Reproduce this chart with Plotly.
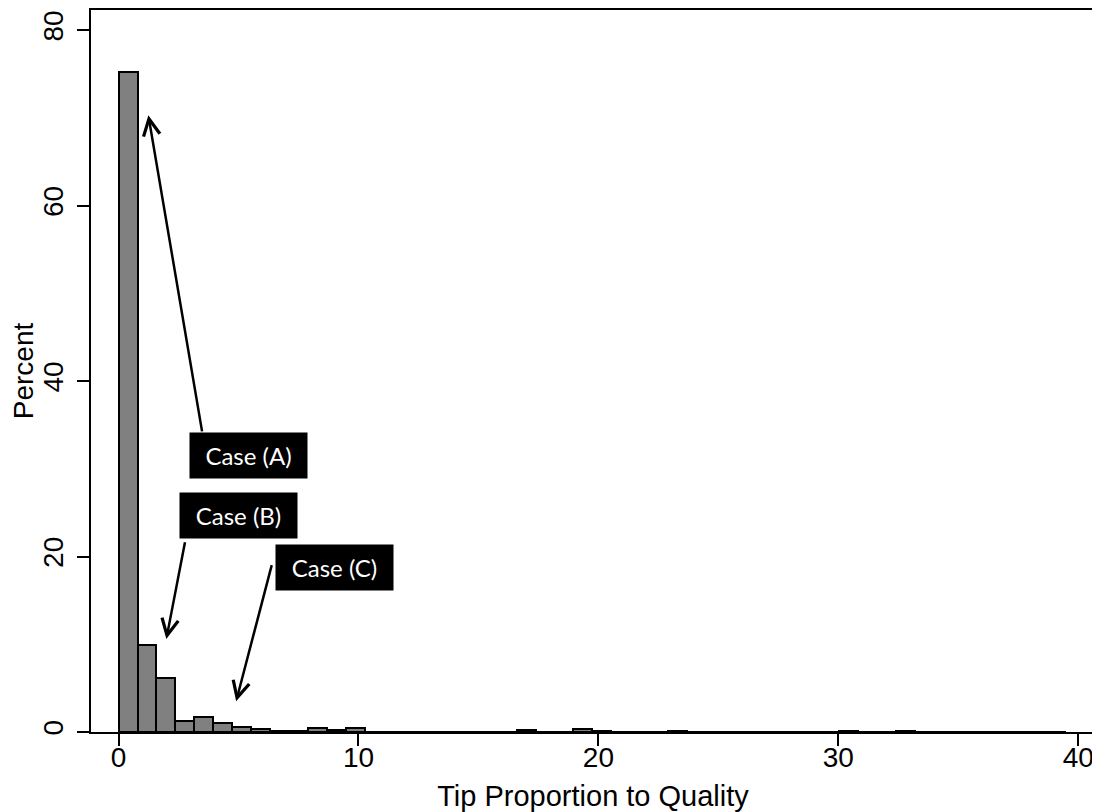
import plotly.graph_objects as go

# Histogram: bin width and percent per bin
bin_width = 0.79
bin_index = list(range(50))
percent = [75.2, 9.9, 6.2, 1.25, 1.75, 1.05, 0.6, 0.3, 0.12, 0.08,
           0.4, 0.22, 0.4, 0.03, 0.03, 0.03, 0.03, 0.03, 0.03, 0.03,
           0.03, 0.2, 0.03, 0.03, 0.3, 0.1, 0.0, 0.0, 0.0, 0.15,
           0.0, 0.0, 0.0, 0.0, 0.0, 0.0, 0.0, 0.0, 0.15, 0.0,
           0.0, 0.1, 0.0, 0.0, 0.0, 0.0, 0.0, 0.0, 0.0, 0.0]
bin_centers = [(i + 0.5) * bin_width for i in bin_index]

x_ticks = [0, 10, 20, 30, 40]
y_ticks = [0, 20, 40, 60, 80]

case_labels = ["Case (A)", "Case (B)", "Case (C)"]
box_x = [5.4, 5.0, 9.0]
box_y = [31.5, 24.7, 18.7]
arrow_head_x = [1.24, 1.99, 4.9]
arrow_head_y = [70.3, 10.6, 3.5]
arrow_tail_x = [3.49, 2.78, 6.4]
arrow_tail_y = [34.1, 21.8, 19.2]

fig = go.Figure()
fig.add_trace(go.Bar(
    x=bin_centers, y=percent, width=bin_width,
    marker=dict(color="#808080", line=dict(color="black", width=2)),
    showlegend=False,
))

annotations = []
for hx, hy, tx, ty in zip(arrow_head_x, arrow_head_y, arrow_tail_x, arrow_tail_y):
    annotations.append(dict(
        x=hx, y=hy, ax=tx, ay=ty, xref="x", yref="y", axref="x", ayref="y",
        text="", showarrow=True, arrowhead=5, arrowsize=1.3, arrowwidth=2.5,
        arrowcolor="black", standoff=0, startstandoff=0,
    ))
for lab, bx, by in zip(case_labels, box_x, box_y):
    annotations.append(dict(
        x=bx, y=by, xref="x", yref="y", text=lab, showarrow=False,
        bgcolor="black", font=dict(color="white", size=24, family="Lato"),
        width=113, height=41, borderpad=2, align="center",
    ))

fig.update_layout(
    width=1092, height=804,
    margin=dict(l=83, r=5, t=2, b=80),
    plot_bgcolor="white", paper_bgcolor="white",
    bargap=0,
    font=dict(family="Liberation Sans", color="black", size=26),
    annotations=annotations,
    xaxis=dict(
        range=[-1.15, 40.7], tickvals=x_ticks, ticks="outside", ticklen=12,
        tickwidth=1.5, tickcolor="black", showgrid=False, zeroline=False,
        showline=True, linecolor="black", linewidth=1.5, mirror=True,
        tickfont=dict(size=28), automargin=False, ticklabelstandoff=-12,
        title=dict(text="Tip Proportion to Quality", font=dict(size=29), standoff=14),
    ),
    yaxis=dict(
        range=[0, 82.3], tickvals=y_ticks, ticks="outside", ticklen=12,
        tickwidth=1.5, tickcolor="black", showgrid=False, zeroline=False,
        showline=True, linecolor="black", linewidth=1.5, mirror=True,
        tickangle=-90, tickfont=dict(size=28), automargin=False, ticklabelstandoff=3,
        title=dict(text="Percent", font=dict(size=28), standoff=4),
    ),
)

fig.write_html("out.html")
